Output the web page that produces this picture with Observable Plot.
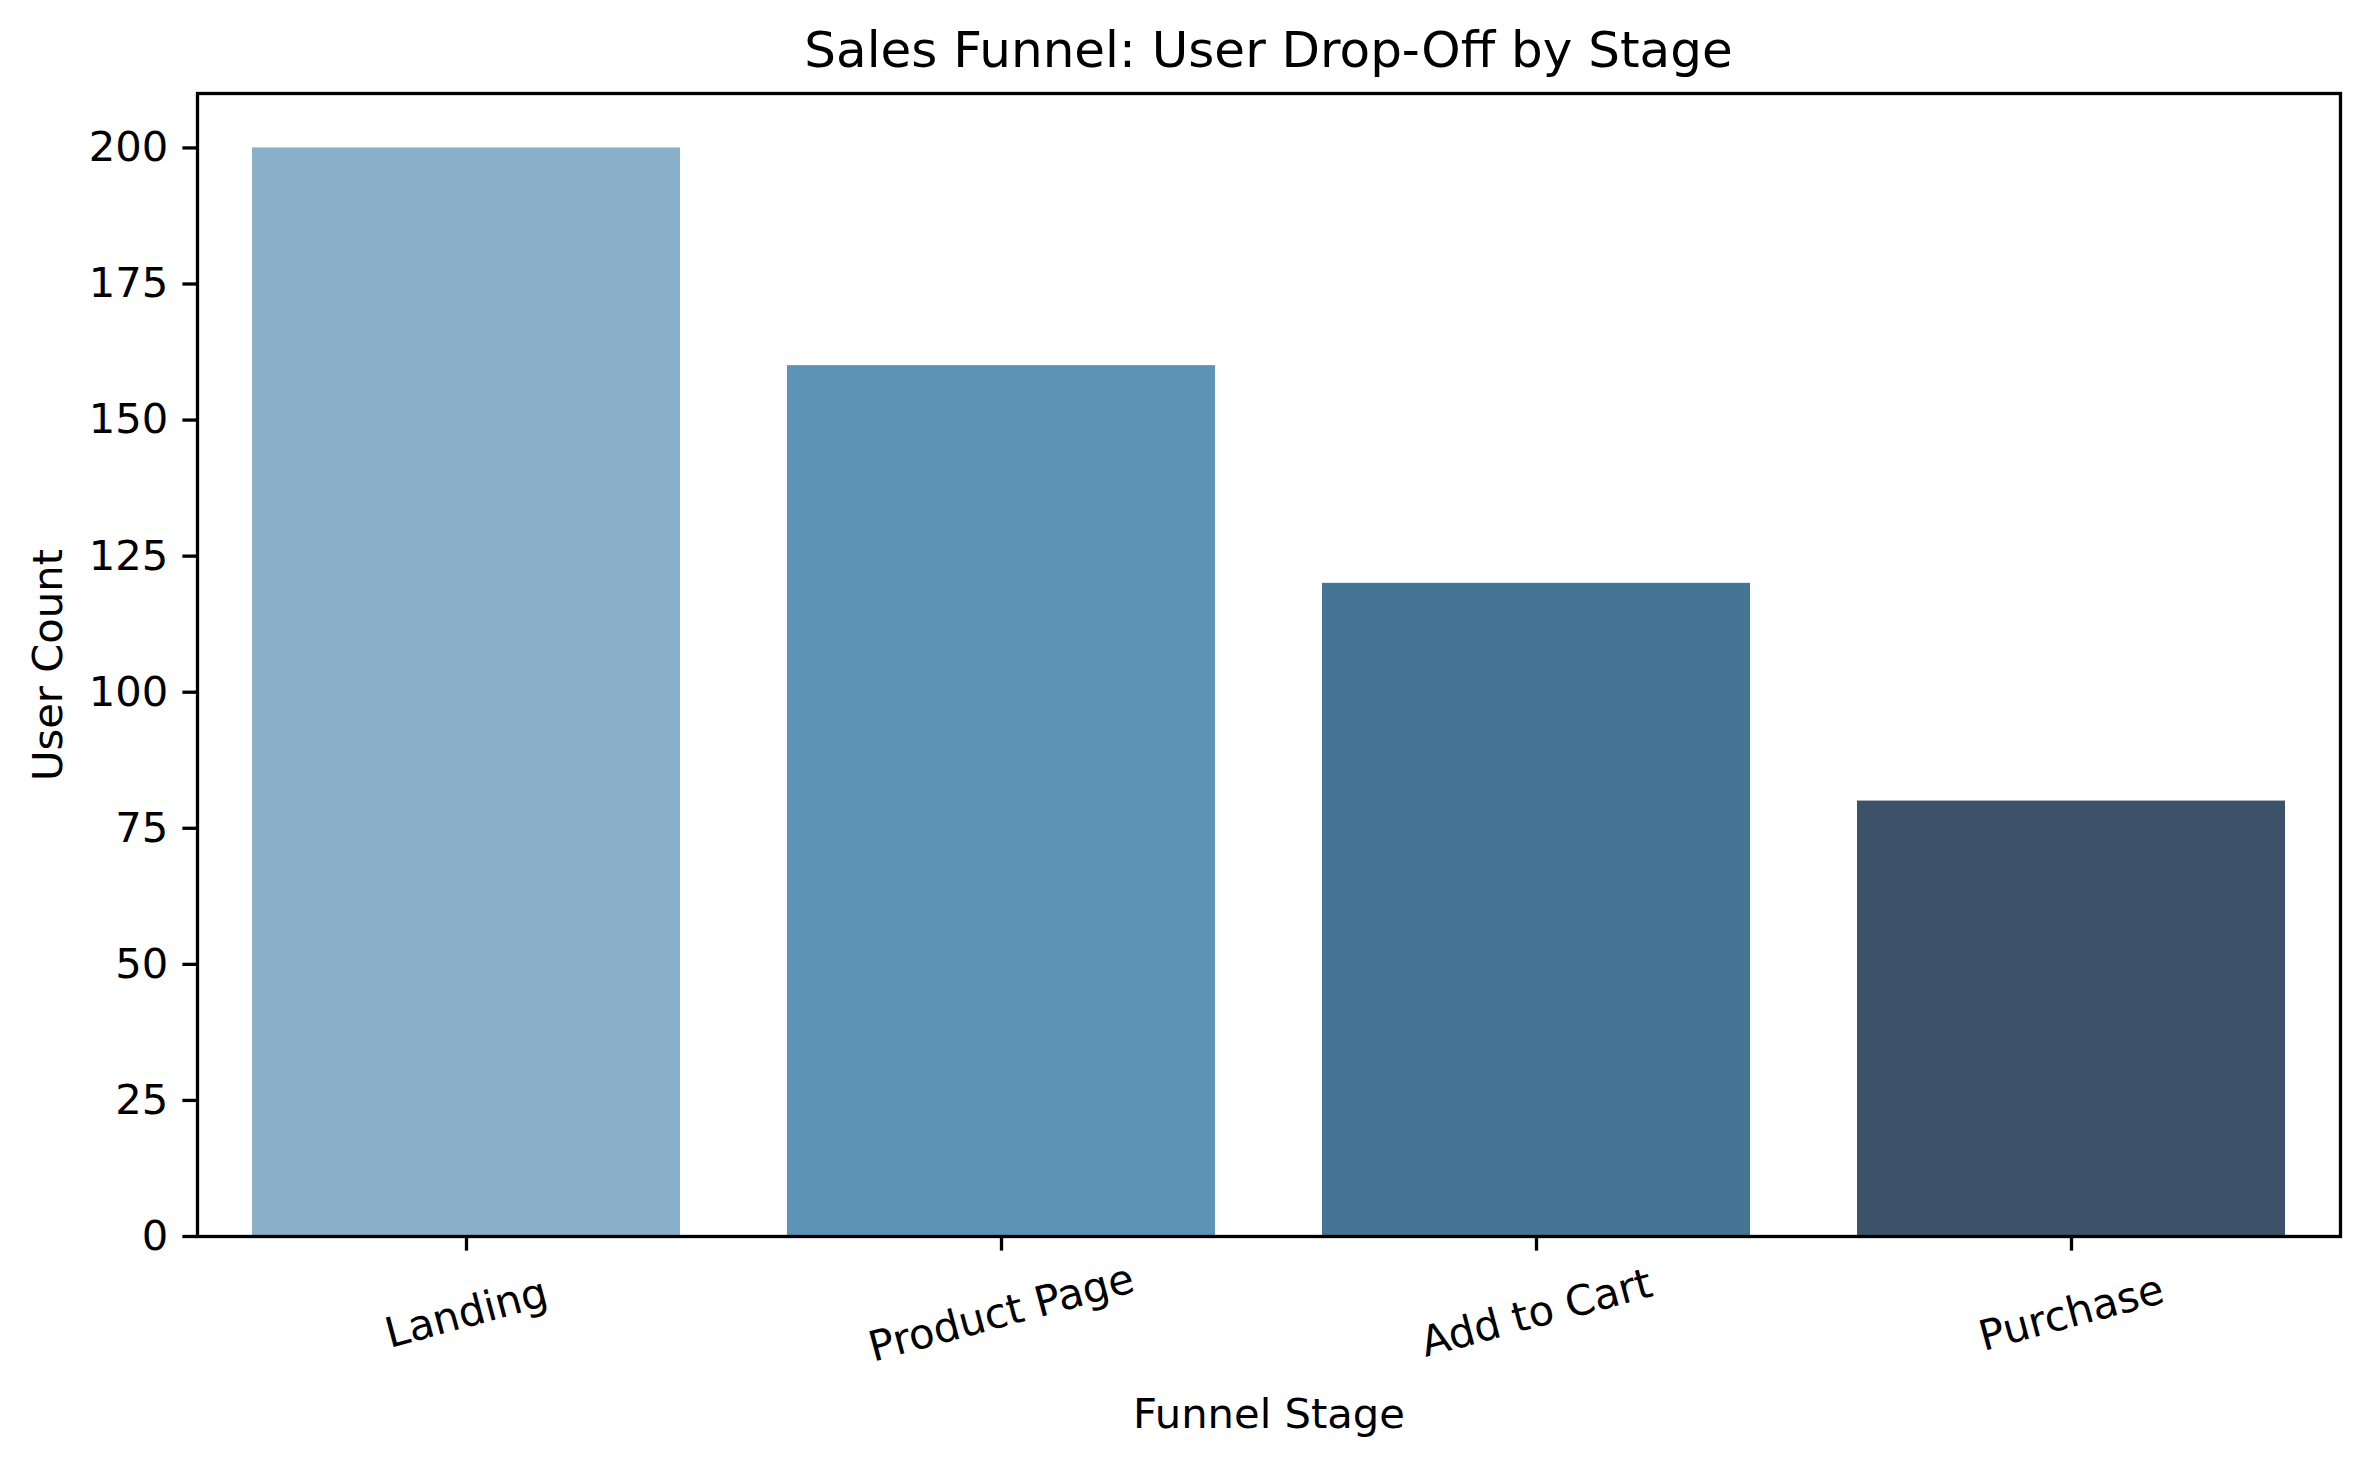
<!DOCTYPE html>
<html>
<head>
<meta charset="utf-8">
<script src="https://cdn.jsdelivr.net/npm/d3@7"></script>
<script src="https://cdn.jsdelivr.net/npm/@observablehq/plot@0.6"></script>
<style>
  html, body { margin: 0; padding: 0; background: white; }
  #title {
    box-sizing: border-box;
    width: 2370px; height: 90px;
    padding-top: 10px; padding-left: 197px; padding-right: 30px;
    font-family: "DejaVu Sans", sans-serif; font-size: 50px; line-height: 80px;
    text-align: center; color: black; white-space: nowrap;
  }
  #chart svg { display: block; }
</style>
</head>
<body>
<div id="title">Sales Funnel: User Drop-Off by Stage</div>
<div id="chart"></div>
<script>
const stages = ["Landing", "Product Page", "Add to Cart", "Purchase"];
const userCounts = [200, 160, 120, 80];
const barColors = ["#89afc9", "#5e93b8", "#457595", "#3c5268"];
const yTicks = [0, 25, 50, 75, 100, 125, 150, 175, 200];
const xLabel = "Funnel Stage";
const yLabel = "User Count";

const data = stages.map((s, i) => ({stage: s, count: userCounts[i], color: barColors[i]}));

const FS = 41.7;
const chart = Plot.plot({
  width: 2370,
  height: 1375,
  marginTop: 3,
  marginLeft: 197,
  marginRight: 30,
  marginBottom: 229,
  style: {fontFamily: "DejaVu Sans", fontSize: FS + "px", color: "black", background: "white"},
  x: {domain: stages, paddingInner: 0.2, paddingOuter: 0.1, label: null, axis: null},
  y: {domain: [0, 210], label: null, axis: null},
  color: {type: "identity"},
  marks: [
    Plot.barY(data, {x: "stage", y: "count", fill: "color", inset: 0}),
    Plot.axisY({ticks: yTicks, tickSize: 14.6, tickPadding: 14.6, strokeWidth: 3.3, label: null, fontSize: FS}),
    Plot.axisX({tickSize: 14.6, strokeWidth: 3.3, tickFormat: () => "", label: null}),
    Plot.text(stages, {x: d => d, frameAnchor: "bottom", dy: 77, rotate: -15, textAnchor: "middle", lineAnchor: "middle", fontSize: FS, fill: "black"}),
    Plot.text([xLabel], {frameAnchor: "bottom", dy: 178, textAnchor: "middle", lineAnchor: "middle", fontSize: FS, fill: "black"}),
    Plot.text([yLabel], {frameAnchor: "left", dx: -149, rotate: -90, textAnchor: "middle", lineAnchor: "middle", fontSize: FS, fill: "black"}),
    Plot.frame({stroke: "black", strokeWidth: 3.3})
  ]
});
document.getElementById("chart").appendChild(chart);
</script>
</body>
</html>
